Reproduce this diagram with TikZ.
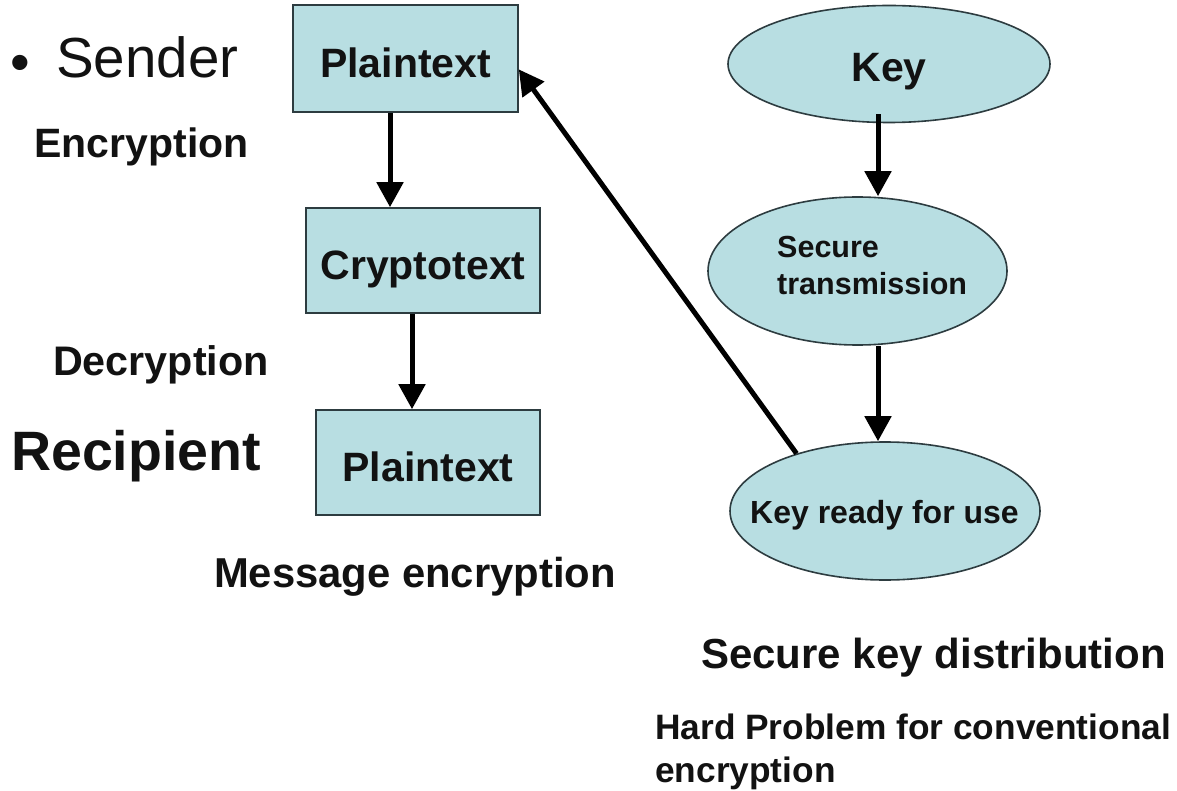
\documentclass[tikz,border=0pt]{standalone}
\usepackage{fontspec}
\setmainfont{Liberation Sans}
\usetikzlibrary{shapes.geometric,arrows.meta,calc}
\definecolor{boxfill}{RGB}{184,222,226}
\definecolor{boxline}{RGB}{45,60,64}
\definecolor{ink}{RGB}{18,18,18}
\newcommand\fsz[1]{\fontsize{#1}{#1}\selectfont}

\begin{document}
\begin{tikzpicture}[x=1pt,y=-1pt,
  box/.style={draw=boxline, fill=boxfill, line width=1.6pt, inner sep=0pt,
              text=ink, font=\bfseries\fsz{41}, text height=38pt, text depth=0pt},
  oval/.style={ellipse, draw=boxline, fill=boxfill, line width=1.6pt, inner sep=0pt},
  lbl/.style={text=ink, font=\bfseries, inner sep=0pt, anchor=base},
  conn/.style={draw=black, line width=5pt, -{Triangle[length=25pt,width=26pt]}}]

% canvas
\fill[white] (0,0) rectangle (1177,791);
\useasboundingbox (0,0) rectangle (1177,791);

% message path: boxes
\node[box, minimum width=225pt, minimum height=107pt] (pt1) at (405.5,58.5) {Plaintext};
\node[box, minimum width=234pt, minimum height=105pt] (cr)  at (423,260.5) {Cryptotext};
\node[box, minimum width=224pt, minimum height=105pt] (pt2) at (428,462.5) {Plaintext};

% key path: ellipses
\node[oval, minimum width=322pt, minimum height=117pt] (key)  at (889,64) {};
\node[oval, minimum width=299pt, minimum height=148pt] (sec)  at (857.5,271) {};
\node[oval, minimum width=310pt, minimum height=138pt] (krdy) at (885,511) {};

\node[lbl, font=\bfseries\fsz{41}] (keyT) at (889,82) {Key};
\node[text=ink, font=\bfseries\fontsize{30.5}{37}\selectfont, inner sep=0pt,
      align=left, anchor=west] (secT) at (777,266) {Secure\\transmission};
\node[lbl, font=\bfseries\fsz{32}] (krdyT) at (884.5,523) {Key ready for use};

% side labels
\node[text=ink, font=\fsz{56}, inner sep=0pt, anchor=base] (bul) at (20,82) {\textbullet};
\node[text=ink, font=\fsz{56.5}, inner sep=0pt, anchor=base west] (snd) at (56,78) {Sender};
\node[lbl, font=\bfseries\fsz{41}] (enc) at (141.5,158) {Encryption};
\node[lbl, font=\bfseries\fsz{41.3}] (dec) at (161,375) {Decryption};
\node[lbl, font=\bfseries\fsz{55.5}] (rcp) at (136,470) {Recipient};
\node[lbl, font=\bfseries\fsz{41.8}] (msg) at (415,587) {Message encryption};
\node[lbl, font=\bfseries\fsz{42}] (skd) at (933.5,668) {Secure key distribution};
\node[text=ink, font=\bfseries\fontsize{35.3}{43}\selectfont, inner sep=0pt,
      align=left, anchor=base west] (hard) at (655,782) {Hard Problem for conventional\\encryption};

% connectors
\draw[conn] ($(pt1.south)+(-15.5,0)$) -- ($(cr.north)+(-33,0)$);
\draw[conn] ($(cr.south)+(-11,0)$) -- ($(pt2.north)+(-16,0)$);
\draw[conn] ($(key.south)+(-11,-9)$) -- ($(sec.north)+(20.5,0)$);
\draw[conn] ($(sec.south)+(20.5,0)$) -- ($(krdy.north)+(-7,0)$);
\draw[conn] (krdy.147) -- ($(pt1.north east)!0.6!(pt1.south east)$);
\end{tikzpicture}
\end{document}
